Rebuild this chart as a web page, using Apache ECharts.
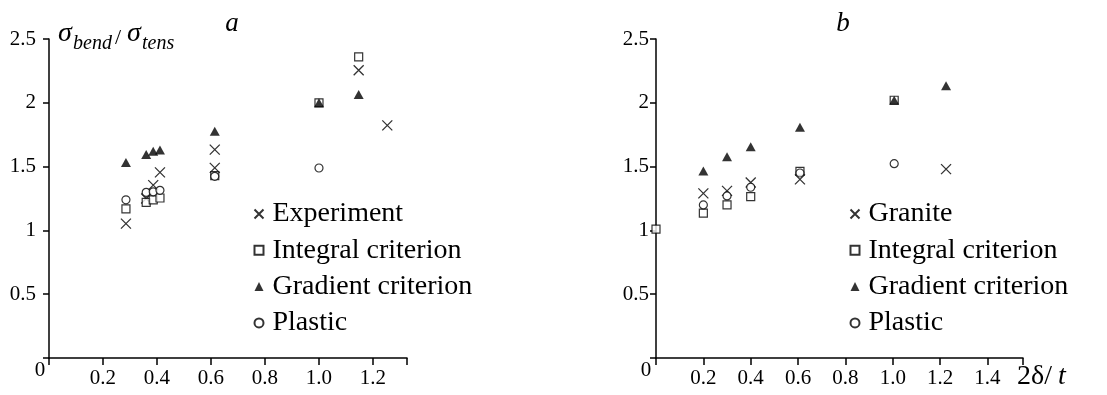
<!DOCTYPE html>
<html>
<head>
<meta charset="utf-8">
<script src="https://cdn.jsdelivr.net/npm/echarts@6/dist/echarts.min.js"></script>
<style>
  html, body { margin: 0; padding: 0; background: #fff; }
  #chart { width: 1107px; height: 395px; }
</style>
</head>
<body>
<div id="chart"></div>
<script>
// panel a
const aExperiment = [[0.285, 1.053], [0.36, 1.25], [0.386, 1.355], [0.411, 1.455], [0.614, 1.633], [0.614, 1.49], [1.147, 2.255], [1.253, 1.823]]
const aIntegral = [[0.285, 1.168], [0.36, 1.22], [0.386, 1.24], [0.411, 1.254], [0.614, 1.43], [1.0, 2.0], [1.147, 2.36]]
const aGradient = [[0.285, 1.533], [0.36, 1.595], [0.386, 1.62], [0.411, 1.63], [0.614, 1.778], [1.0, 2.0], [1.147, 2.066]]
const aPlastic = [[0.285, 1.24], [0.36, 1.298], [0.386, 1.302], [0.411, 1.314], [0.614, 1.424], [1.0, 1.489]]
// panel b
const bGranite = [[0.2, 1.29], [0.3, 1.31], [0.4, 1.375], [0.608, 1.4], [1.225, 1.48]]
const bIntegral = [[0, 1.01], [0.2, 1.136], [0.3, 1.2], [0.4, 1.264], [0.608, 1.463], [1.006, 2.02]]
const bGradient = [[0.2, 1.466], [0.3, 1.578], [0.4, 1.656], [0.608, 1.808], [1.006, 2.02], [1.225, 2.134]]
const bPlastic = [[0.2, 1.2], [0.3, 1.27], [0.4, 1.338], [0.608, 1.45], [1.006, 1.523]]

// tick steps
const xStep = 0.2
const yStep = 0.5

const FONT = '"Liberation Serif", "Times New Roman", serif'
const BLACK = '#000'

const markers = {
  cross: { symbol: 'path://M0,0L10,10M10,0L0,10', symbolSize: 10, itemStyle: { color: 'none', borderColor: BLACK, borderWidth: 1.3 } },
  square: { symbol: 'rect', symbolSize: 8, itemStyle: { color: '#fff', borderColor: BLACK, borderWidth: 1.2 } },
  triangle: { symbol: 'triangle', symbolSize: [10, 9], itemStyle: { color: BLACK } },
  circle: { symbol: 'circle', symbolSize: 8, itemStyle: { color: '#fff', borderColor: BLACK, borderWidth: 1.2 } }
}

function scatter (name, data, kind, idx) {
  const m = markers[kind]
  return {
    name: name,
    type: 'scatter',
    xAxisIndex: idx,
    yAxisIndex: idx,
    clip: false,
    symbol: m.symbol,
    symbolSize: m.symbolSize,
    itemStyle: m.itemStyle,
    emphasis: { disabled: true },
    data: data
  }
}

// only label whole steps, skip zero (drawn separately)
function onStep (v, step) {
  const k = v / step
  return v > 0 && Math.abs(k - Math.round(k)) < 1e-6
}

function xAxis (idx, max) {
  return {
    type: 'value',
    gridIndex: idx,
    min: 0,
    max: max,
    interval: xStep,
    axisLine: { show: true, onZero: false, lineStyle: { color: BLACK, width: 1.5 } },
    axisTick: { show: true, length: 7, lineStyle: { color: BLACK, width: 1.5 } },
    axisLabel: {
      formatter: v => onStep(v, xStep) ? v.toFixed(1) : '',
      color: BLACK,
      fontFamily: FONT,
      fontSize: 21,
      margin: 10
    },
    splitLine: { show: false }
  }
}

function yAxis (idx, margin) {
  return {
    type: 'value',
    gridIndex: idx,
    min: 0,
    max: 2.5,
    interval: yStep,
    axisLine: { show: true, lineStyle: { color: BLACK, width: 1.5 } },
    axisTick: { show: true, length: 6, lineStyle: { color: BLACK, width: 1.5 } },
    axisLabel: {
      formatter: v => onStep(v, yStep) ? String(v) : '',
      color: BLACK,
      fontFamily: FONT,
      fontSize: 21,
      margin: margin
    },
    splitLine: { show: false }
  }
}

function legend (left, names) {
  return {
    orient: 'vertical',
    left: left,
    top: 194,
    itemWidth: 9,
    itemHeight: 9,
    itemGap: 6.3,
    selectedMode: false,
    textStyle: { fontFamily: FONT, fontSize: 28, color: BLACK, lineHeight: 30, padding: [0, 0, 0, 4] },
    data: names
  }
}

function label (x, y, text, size, italic, align) {
  return {
    type: 'text',
    x: x,
    y: y,
    style: {
      text: text,
      fill: BLACK,
      fontFamily: FONT,
      fontSize: size,
      fontStyle: italic ? 'italic' : 'normal',
      align: align || 'left',
      verticalAlign: 'middle'
    }
  }
}

const chart = echarts.init(document.getElementById('chart'))
chart.setOption({
  backgroundColor: '#fff',
  animation: false,
  grid: [
    { left: 49, top: 39, width: 358, height: 319 },
    { left: 656, top: 39, width: 367, height: 319 }
  ],
  xAxis: [xAxis(0, 1.326), xAxis(1, 1.55)],
  yAxis: [yAxis(0, 13), yAxis(1, 7)],
  legend: [
    legend(247, ['Experiment', 'Integral criterion', 'Gradient criterion', 'Plastic']),
    legend(843, ['Granite', 'Integral criterion', 'Gradient criterion', 'Plastic'])
  ],
  series: [
    scatter('Experiment', aExperiment, 'cross', 0),
    scatter('Integral criterion', aIntegral, 'square', 0),
    scatter('Gradient criterion', aGradient, 'triangle', 0),
    scatter('Plastic', aPlastic, 'circle', 0),
    scatter('Granite', bGranite, 'cross', 1),
    scatter('Integral criterion', bIntegral, 'square', 1),
    scatter('Gradient criterion', bGradient, 'triangle', 1),
    scatter('Plastic', bPlastic, 'circle', 1)
  ],
  graphic: [
    label(40, 370, '0', 21, false, 'center'),
    label(646, 370, '0', 21, false, 'center'),
    label(232, 24, 'a', 27, true, 'center'),
    label(843, 24, 'b', 27, true, 'center'),
    // y title: sigma_bend / sigma_tens
    label(58, 34, 'σ', 28, true),
    label(73, 44, 'bend', 20, true),
    label(115, 38, '/', 22, false),
    label(127, 34, 'σ', 28, true),
    label(142, 44, 'tens', 20, true),
    // x title on panel b
    label(1017, 377, '2δ/', 28, false),
    label(1058, 377, 't', 28, true)
  ]
})
</script>
</body>
</html>
